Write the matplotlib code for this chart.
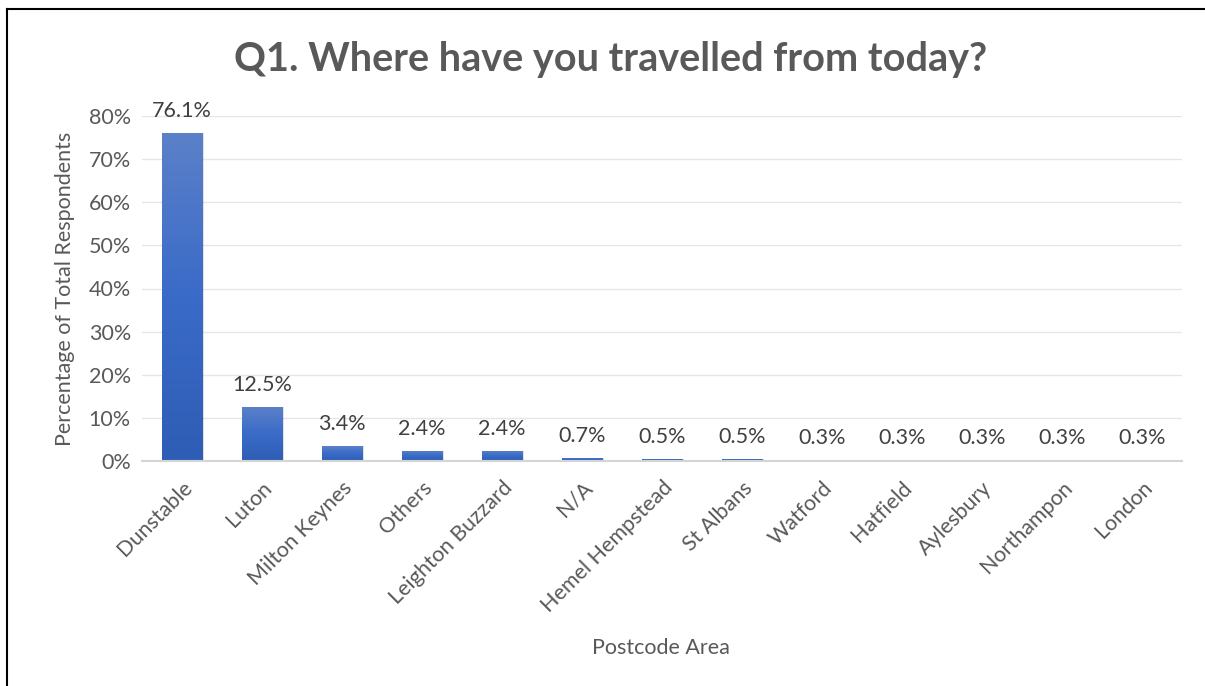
import matplotlib.pyplot as plt
import numpy as np
from matplotlib.colors import LinearSegmentedColormap
from matplotlib.patches import Rectangle

areas = ['Dunstable', 'Luton', 'Milton Keynes', 'Others', 'Leighton Buzzard', 'N/A',
         'Hemel Hempstead', 'St Albans', 'Watford', 'Hatfield', 'Aylesbury',
         'Northampon', 'London']
pct = [76.1, 12.5, 3.4, 2.4, 2.4, 0.7, 0.5, 0.5, 0.3, 0.3, 0.3, 0.3, 0.3]
yticks = [0, 10, 20, 30, 40, 50, 60, 70, 80]

plt.rcParams['font.family'] = ['Lato', 'DejaVu Sans']
grey = '#595959'
fs = 15.5

fig = plt.figure(figsize=(12.05, 6.86), dpi=100)
ax = fig.add_axes([142 / 1205, 1 - 461 / 686, 1040 / 1205, 345 / 686])

grad = LinearSegmentedColormap.from_list('bar', ['#2e5db5', '#3a6bc8', '#5b80c8'])
xs = np.arange(len(areas))
bars = ax.bar(xs, pct, width=0.51, color='none', edgecolor='none', zorder=3)
for b in bars:
    x0, w, h = b.get_x(), b.get_width(), b.get_height()
    # soft shadow
    ax.add_patch(Rectangle((x0 + 0.015, 0), w, h, color='#000000', alpha=0.12, zorder=2, lw=0))
    img = ax.imshow(np.linspace(0, 1, 100).reshape(-1, 1), cmap=grad, aspect='auto',
                    extent=[x0, x0 + w, 0, h], origin='lower', zorder=3)
    img.set_clip_path(b)

for x, v in zip(xs, pct):
    ax.text(x, v + 2.8, f'{v:.1f}%', ha='center', va='bottom', fontsize=fs, color='#404040',
            clip_on=False)

ax.set_xlim(-0.5, len(areas) - 0.5)
ax.set_ylim(0, 80)
ax.set_yticks(yticks)
ax.set_yticklabels([f'{t}%' for t in yticks], fontsize=fs, color=grey)
ax.set_xticks(xs)
ax.set_xticklabels(areas, rotation=45, ha='right', rotation_mode='anchor', fontsize=fs, color=grey)
ax.tick_params(length=0, pad=8)
ax.tick_params(axis='x', pad=12)
ax.grid(axis='y', color='#e6e6e6', lw=1, zorder=0)
for s in ['top', 'right', 'left']:
    ax.spines[s].set_visible(False)
ax.spines['bottom'].set_color('#d4d4d4')
ax.spines['bottom'].set_linewidth(1.5)
ax.spines['bottom'].set_zorder(4)

ax.set_ylabel('Percentage of Total Respondents', fontsize=fs, color=grey, labelpad=10)
fig.text(661 / 1205, 1 - 648 / 686, 'Postcode Area', ha='center', va='center', fontsize=fs, color=grey)
fig.text(611 / 1205, 1 - 60 / 686, 'Q1. Where have you travelled from today?', ha='center',
         va='center', fontsize=28.5, fontweight='bold', color=grey)

# outer frame (left and top visible)
fig.add_artist(plt.Line2D([7 / 1205, 7 / 1205], [0, 1 - 9 / 686], color='black', lw=1.5,
                          transform=fig.transFigure))
fig.add_artist(plt.Line2D([7 / 1205, 1], [1 - 9 / 686, 1 - 9 / 686], color='black', lw=1.5,
                          transform=fig.transFigure))

fig.savefig('out.png', dpi=100)
